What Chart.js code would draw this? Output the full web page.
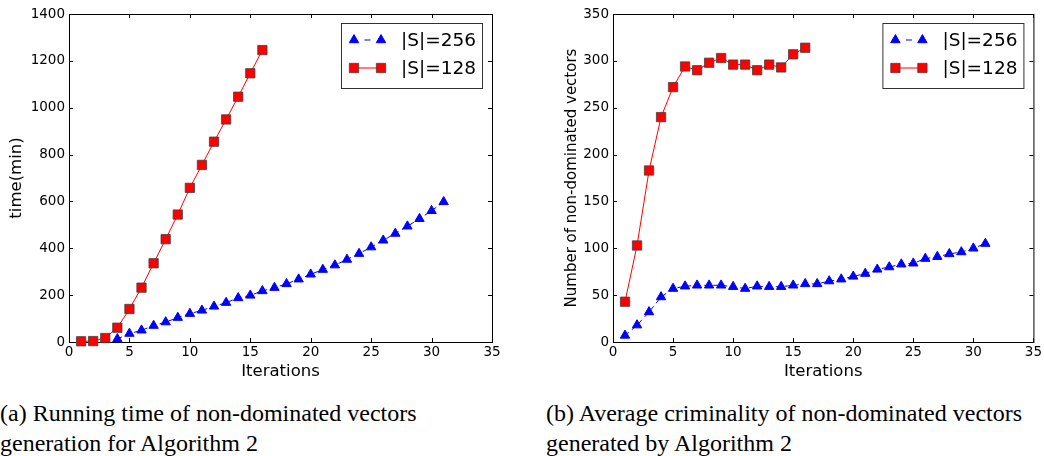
<!DOCTYPE html>
<html>
<head>
<meta charset="utf-8">
<script src="https://cdn.jsdelivr.net/npm/chart.js@4.4.0/dist/chart.umd.min.js"></script>
<style>
  body { margin:0; background:#fff; width:1044px; height:456px; overflow:hidden; position:relative; }
  canvas { position:absolute; top:0; }
  #c1 { left:0; }
  #c2 { left:520px; }
  .cap { position:absolute; font-family:"Liberation Serif","Times New Roman",serif; font-size:24px; line-height:30px; color:#000; white-space:nowrap; }
</style>
</head>
<body>
<canvas id="c1" width="520" height="390"></canvas>
<canvas id="c2" width="524" height="390"></canvas>
<div class="cap" style="left:0px;top:398px">(a) Running time of non-dominated vectors<br>generation for Algorithm 2</div>
<div class="cap" style="left:546px;top:398px">(b) Average criminality of non-dominated vectors<br>generated by Algorithm 2</div>
<script>
// (a) running time
const timeIter128 = [1, 2, 3, 4, 5, 6, 7, 8, 9, 10, 11, 12, 13, 14, 15, 16];
const time128 = [3, 4, 17, 61, 141, 232, 336, 439, 544, 658, 756, 855, 950, 1047, 1147, 1246];
const timeIter256 = [4, 5, 6, 7, 8, 9, 10, 11, 12, 13, 14, 15, 16, 17, 18, 19, 20, 21, 22, 23, 24, 25, 26, 27, 28, 29, 30, 31];
const time256 = [13, 36, 50, 70, 85, 104, 121, 135, 152, 168, 188, 199, 218, 232, 248, 268, 289, 309, 328, 352, 377, 405, 434, 463, 494, 526, 560, 598];

// (b) number of non-dominated vectors
const ndIter128 = [1, 2, 3, 4, 5, 6, 7, 8, 9, 10, 11, 12, 13, 14, 15, 16];
const nd128 = [43, 103, 183, 240, 272, 294, 290, 298, 303, 296, 296, 290, 296, 293, 307, 314];
const ndIter256 = [1, 2, 3, 4, 5, 6, 7, 8, 9, 10, 11, 12, 13, 14, 15, 16, 17, 18, 19, 20, 21, 22, 23, 24, 25, 26, 27, 28, 29, 30, 31];
const nd256 = [7, 18, 32, 48, 57, 59.5, 60.5, 60.5, 60.5, 59, 57, 59.5, 59, 59, 60.5, 62, 62, 65, 67, 70, 73, 77.5, 80, 83, 84, 89, 91, 94, 96, 100, 105];

const xTicks = { min: 0, max: 35, step: 5 };
const seriesLabels = ['|S|=256', '|S|=128'];

Chart.defaults.font.family = 'DejaVu Sans';
Chart.defaults.color = '#000';

function toXY(xs, ys) {
  return xs.map((x, i) => ({ x: x, y: ys[i] }));
}

// matplotlib style box with inward ticks on all sides
const framePlugin = {
  id: 'frame',
  beforeDatasetsDraw(chart) {
    const { ctx, chartArea: a, scales: { x, y } } = chart;
    ctx.save();
    ctx.strokeStyle = '#000';
    ctx.lineWidth = 1;
    ctx.beginPath();
    x.ticks.forEach(t => {
      const px = Math.round(x.getPixelForValue(t.value)) + 0.5;
      ctx.moveTo(px, a.bottom); ctx.lineTo(px, a.bottom - 4);
      ctx.moveTo(px, a.top); ctx.lineTo(px, a.top + 4);
    });
    y.ticks.forEach(t => {
      const py = Math.round(y.getPixelForValue(t.value)) + 0.5;
      ctx.moveTo(a.left, py); ctx.lineTo(a.left + 4, py);
      ctx.moveTo(a.right, py); ctx.lineTo(a.right - 4, py);
    });
    ctx.stroke();
    ctx.strokeRect(a.left + 0.5, a.top + 0.5, a.right - a.left, a.bottom - a.top);
    ctx.restore();
  }
};

function marker(ctx, style, r, x, y, fill, stroke) {
  ctx.beginPath();
  if (style === 'triangle') {
    ctx.moveTo(x, y - r);
    ctx.lineTo(x + 0.866 * r, y + 0.5 * r);
    ctx.lineTo(x - 0.866 * r, y + 0.5 * r);
    ctx.closePath();
  } else {
    const s = r * Math.SQRT1_2;
    ctx.rect(x - s, y - s, 2 * s, 2 * s);
  }
  ctx.fillStyle = fill;
  ctx.fill();
  ctx.strokeStyle = stroke;
  ctx.lineWidth = 1;
  ctx.stroke();
}

// legend box like matplotlib (two markers joined by the line)
const boxLegend = {
  id: 'boxLegend',
  afterDraw(chart) {
    const { ctx, chartArea: a } = chart;
    const w = 141, h = 65;
    const left = a.right - 10 - w, top = a.top + 9;
    ctx.save();
    ctx.fillStyle = '#fff';
    ctx.fillRect(left, top, w, h);
    ctx.strokeStyle = '#333';
    ctx.lineWidth = 1;
    ctx.strokeRect(left + 0.5, top + 0.5, w, h);
    const sets = chart.data.datasets.slice().sort((p, q) => q.order - p.order);
    sets.forEach((ds, i) => {
      const cy = top + 17 + i * 28;
      const x1 = left + 13, x2 = left + 40;
      ctx.beginPath();
      ctx.setLineDash(ds.borderDash ? [6, 20] : []);
      ctx.lineDashOffset = -10.5;
      ctx.strokeStyle = ds.borderColor;
      ctx.lineWidth = 1;
      ctx.moveTo(x1, cy); ctx.lineTo(x2, cy);
      ctx.stroke();
      ctx.setLineDash([]);
      marker(ctx, ds.pointStyle, ds.pointRadius, x1, cy, ds.backgroundColor, ds.pointBorderColor);
      marker(ctx, ds.pointStyle, ds.pointRadius, x2, cy, ds.backgroundColor, ds.pointBorderColor);
      ctx.fillStyle = '#000';
      ctx.font = '18.5px "DejaVu Sans"';
      ctx.textBaseline = 'middle';
      ctx.fillText(ds.label, left + 60, cy + 1);
    });
    ctx.restore();
  }
};

function makeChart(id, cfg) {
  return new Chart(document.getElementById(id), {
    type: 'line',
    data: {
      datasets: [
        {
          label: seriesLabels[1],
          data: toXY(cfg.x128, cfg.y128),
          borderColor: '#ff0000',
          backgroundColor: '#ff0000',
          pointBorderColor: 'rgba(60,60,60,0.75)',
          borderWidth: 1,
          pointStyle: 'rect',
          pointRadius: 6.6,
          pointBorderWidth: 1,
          order: 0,
          clip: false
        },
        {
          label: seriesLabels[0],
          data: toXY(cfg.x256, cfg.y256),
          borderColor: '#0000ff',
          backgroundColor: '#0000ff',
          pointBorderColor: '#0000ff',
          borderWidth: 1,
          borderDash: [5, 4],
          pointStyle: 'triangle',
          pointRadius: 5.4,
          pointBorderWidth: 1,
          order: 1,
          clip: false
        }
      ]
    },
    options: {
      responsive: false,
      animation: false,
      events: [],
      layout: { padding: { top: 14, right: cfg.padRight, left: 0, bottom: 0 } },
      plugins: { legend: { display: false }, tooltip: { enabled: false } },
      scales: {
        x: {
          type: 'linear',
          min: xTicks.min, max: xTicks.max,
          grid: { display: false, drawTicks: false },
          border: { display: false },
          ticks: { stepSize: xTicks.step, padding: 2, font: { size: 13.5 }, callback: v => String(v) },
          title: { display: true, text: 'Iterations', font: { size: 16.5 }, padding: { top: 0, bottom: 8 } },
          afterFit: s => { s.height = 48; }
        },
        y: {
          min: 0, max: cfg.yMax,
          grid: { display: false, drawTicks: false },
          border: { display: false },
          ticks: { stepSize: cfg.yStep, padding: 4, font: { size: 13.5 }, callback: v => String(v) },
          title: { display: true, text: cfg.yTitle, font: { size: cfg.yTitleSize }, padding: { top: cfg.yTitlePad, bottom: 0 } },
          afterFit: s => { s.width = cfg.yWidth; }
        }
      }
    },
    plugins: [framePlugin, boxLegend]
  });
}

makeChart('c1', {
  x128: timeIter128, y128: time128, x256: timeIter256, y256: time256,
  yMax: 1400, yStep: 200, yTitle: 'time(min)', yTitleSize: 16.5, yTitlePad: 7,
  yWidth: 69, padRight: 28
});

makeChart('c2', {
  x128: ndIter128, y128: nd128, x256: ndIter256, y256: nd256,
  yMax: 350, yStep: 50, yTitle: 'Number of non-dominated vectors', yTitleSize: 15, yTitlePad: 43,
  yWidth: 93, padRight: 9
});
</script>
</body>
</html>
